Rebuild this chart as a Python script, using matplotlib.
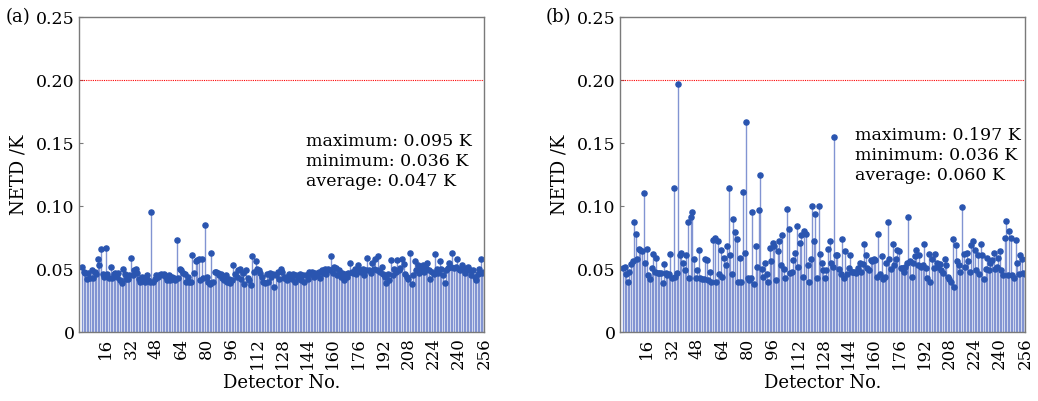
import numpy as np
import matplotlib
matplotlib.use('Agg')
import matplotlib.pyplot as plt

plt.rcParams['font.family'] = 'DejaVu Serif'

# NETD of each detector (K), detectors 1..256
netd_a = [
    0.052, 0.048, 0.047, 0.042, 0.047, 0.043, 0.049, 0.043, 0.048, 0.046, 0.058, 0.053, 0.066, 0.046, 0.044, 0.067,
    0.046, 0.043, 0.052, 0.043, 0.046, 0.047, 0.044, 0.047, 0.041, 0.039, 0.050, 0.046, 0.042, 0.042, 0.045, 0.059,
    0.045, 0.049, 0.050, 0.047, 0.042, 0.040, 0.044, 0.043, 0.040, 0.045, 0.041, 0.040, 0.095, 0.040, 0.042, 0.045,
    0.044, 0.045, 0.046, 0.045, 0.046, 0.044, 0.041, 0.045, 0.041, 0.044, 0.043, 0.041, 0.073, 0.043, 0.050, 0.049,
    0.047, 0.046, 0.040, 0.044, 0.040, 0.040, 0.061, 0.047, 0.056, 0.057, 0.058, 0.041, 0.058, 0.043, 0.085, 0.044,
    0.040, 0.038, 0.063, 0.040, 0.048, 0.048, 0.047, 0.045, 0.046, 0.043, 0.041, 0.045, 0.040, 0.042, 0.039, 0.041,
    0.053, 0.046, 0.044, 0.049, 0.050, 0.042, 0.047, 0.038, 0.049, 0.043, 0.041, 0.037, 0.060, 0.048, 0.056, 0.050,
    0.049, 0.047, 0.044, 0.040, 0.039, 0.046, 0.040, 0.047, 0.044, 0.046, 0.036, 0.045, 0.048, 0.042, 0.050, 0.048,
    0.043, 0.044, 0.041, 0.046, 0.044, 0.042, 0.046, 0.040, 0.045, 0.043, 0.046, 0.041, 0.045, 0.040, 0.045, 0.042,
    0.048, 0.046, 0.048, 0.044, 0.047, 0.045, 0.048, 0.043, 0.049, 0.047, 0.050, 0.046, 0.050, 0.049, 0.060, 0.047,
    0.052, 0.051, 0.045, 0.049, 0.044, 0.047, 0.041, 0.046, 0.044, 0.047, 0.055, 0.048, 0.047, 0.050, 0.046, 0.053,
    0.049, 0.048, 0.050, 0.045, 0.049, 0.059, 0.049, 0.047, 0.055, 0.050, 0.058, 0.049, 0.060, 0.048, 0.052, 0.046,
    0.044, 0.039, 0.046, 0.041, 0.057, 0.045, 0.050, 0.048, 0.057, 0.049, 0.051, 0.058, 0.054, 0.046, 0.044, 0.042,
    0.063, 0.038, 0.045, 0.056, 0.049, 0.053, 0.047, 0.050, 0.053, 0.048, 0.051, 0.055, 0.049, 0.042, 0.048, 0.046,
    0.062, 0.050, 0.047, 0.056, 0.050, 0.045, 0.039, 0.049, 0.051, 0.055, 0.052, 0.063, 0.051, 0.052, 0.058, 0.050,
    0.049, 0.053, 0.051, 0.047, 0.050, 0.052, 0.049, 0.045, 0.049, 0.044, 0.041, 0.046, 0.050, 0.058, 0.047, 0.048,
]

netd_b = [
    0.051, 0.052, 0.046, 0.040, 0.048, 0.054, 0.056, 0.087, 0.078, 0.058, 0.066, 0.065, 0.064, 0.110, 0.055, 0.066,
    0.045, 0.042, 0.051, 0.062, 0.048, 0.059, 0.047, 0.047, 0.047, 0.039, 0.054, 0.047, 0.045, 0.046, 0.062, 0.043,
    0.114, 0.044, 0.047, 0.197, 0.061, 0.063, 0.055, 0.049, 0.061, 0.087, 0.043, 0.091, 0.095, 0.058, 0.043, 0.049,
    0.065, 0.043, 0.042, 0.042, 0.058, 0.057, 0.041, 0.048, 0.040, 0.073, 0.075, 0.040, 0.072, 0.046, 0.065, 0.044,
    0.059, 0.053, 0.068, 0.114, 0.061, 0.046, 0.090, 0.079, 0.074, 0.040, 0.059, 0.040, 0.111, 0.063, 0.167, 0.043,
    0.041, 0.043, 0.095, 0.038, 0.068, 0.052, 0.097, 0.125, 0.050, 0.044, 0.055, 0.046, 0.040, 0.067, 0.056, 0.071,
    0.068, 0.041, 0.064, 0.072, 0.053, 0.077, 0.050, 0.043, 0.098, 0.082, 0.047, 0.048, 0.057, 0.063, 0.084, 0.052,
    0.071, 0.077, 0.044, 0.080, 0.078, 0.053, 0.040, 0.058, 0.100, 0.072, 0.094, 0.043, 0.100, 0.062, 0.055, 0.049,
    0.043, 0.049, 0.066, 0.072, 0.055, 0.052, 0.155, 0.061, 0.061, 0.050, 0.046, 0.074, 0.043, 0.064, 0.046, 0.051,
    0.061, 0.048, 0.048, 0.048, 0.047, 0.051, 0.055, 0.048, 0.054, 0.070, 0.061, 0.051, 0.049, 0.057, 0.056, 0.058,
    0.057, 0.044, 0.078, 0.046, 0.060, 0.042, 0.044, 0.055, 0.087, 0.058, 0.050, 0.070, 0.053, 0.058, 0.065, 0.064,
    0.051, 0.051, 0.048, 0.052, 0.055, 0.091, 0.056, 0.044, 0.055, 0.060, 0.065, 0.053, 0.061, 0.052, 0.053, 0.070,
    0.051, 0.043, 0.062, 0.040, 0.058, 0.051, 0.062, 0.055, 0.052, 0.054, 0.049, 0.047, 0.058, 0.053, 0.044, 0.042,
    0.040, 0.074, 0.036, 0.069, 0.056, 0.053, 0.048, 0.099, 0.062, 0.052, 0.063, 0.056, 0.048, 0.069, 0.072, 0.065,
    0.049, 0.061, 0.046, 0.070, 0.061, 0.042, 0.050, 0.059, 0.049, 0.055, 0.057, 0.063, 0.050, 0.052, 0.059, 0.064,
    0.049, 0.045, 0.075, 0.088, 0.045, 0.080, 0.075, 0.045, 0.043, 0.073, 0.055, 0.046, 0.061, 0.058, 0.047, 0.046,
]

stats_a = ['maximum: 0.095 K', 'minimum: 0.036 K', 'average: 0.047 K']
stats_b = ['maximum: 0.197 K', 'minimum: 0.036 K', 'average: 0.060 K']

limit = 0.20
xticks = list(range(16, 257, 16))
yticks = [0, 0.05, 0.10, 0.15, 0.20, 0.25]
ylabels = ['0', '0.05', '0.10', '0.15', '0.20', '0.25']

fig = plt.figure(figsize=(10.38, 4.01), dpi=100)
ax_a = fig.add_axes([0.0761, 0.172, 0.3902, 0.7856])
ax_b = fig.add_axes([0.5973, 0.172, 0.3902, 0.7856])

stem_col = '#8294d2'
dot_col = '#2a55b0'
spine_col = '#7a7a7a'

panels = [(ax_a, netd_a, stats_a, 143, 0.158), (ax_b, netd_b, stats_b, 148, 0.163)]
for ax, vals, stats, tx, ty in panels:
    x = np.arange(1, len(vals) + 1)
    ax.vlines(x, 0, vals, color=stem_col, lw=1.0)
    ax.plot(x, vals, 'o', color=dot_col, ms=3.7, mec=dot_col)
    ax.axhline(limit, color='red', lw=0.8, ls=(0, (1, 1)))
    ax.set_xlim(-1, 256)
    ax.set_ylim(0, 0.25)
    ax.set_xticks(xticks)
    ax.set_xticklabels([str(t) for t in xticks], rotation=90, fontsize=12)
    ax.set_yticks(yticks)
    ax.set_yticklabels(ylabels, fontsize=12.5)
    ax.tick_params(axis='y', direction='in', length=3, color=spine_col, pad=3)
    ax.tick_params(axis='x', direction='in', length=0, pad=4)
    for s in ax.spines.values():
        s.set_color(spine_col)
        s.set_linewidth(1.0)
    ax.set_xlabel('Detector No.', fontsize=13, labelpad=3)
    ax.set_ylabel('NETD /K', fontsize=13, labelpad=6)
    ax.text(tx, ty, '\n'.join(stats), fontsize=12.5, va='top', ha='left',
            linespacing=1.25)

fig.text(0.005, 0.957, '(a)', fontsize=13, va='center', ha='left')
fig.text(0.526, 0.957, '(b)', fontsize=13, va='center', ha='left')

fig.savefig('out.png', dpi=100)
